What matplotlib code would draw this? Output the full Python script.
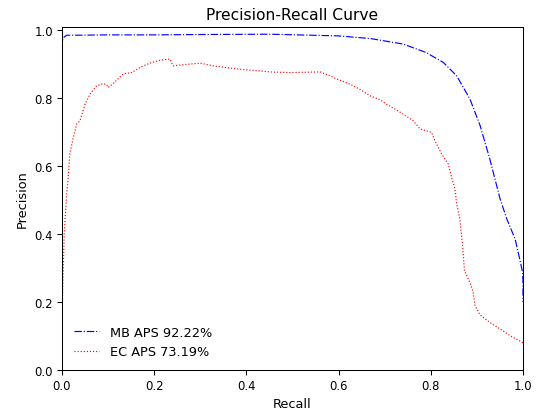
import matplotlib
matplotlib.use('Agg')
import matplotlib.pyplot as plt

# MB 曲线 (recall, precision)
mb_recall = [0, 0, 0.002, 0.005, 0.01, 0.03, 0.1, 0.2, 0.3, 0.45, 0.6, 0.67, 0.74,
             0.79, 0.827, 0.856, 0.885, 0.907, 0.928, 0.95, 0.965, 0.983, 0.993,
             0.999, 1.0, 1.0]
mb_precision = [0.0, 0.96, 0.975, 0.98, 0.985, 0.985, 0.986, 0.986, 0.987, 0.988,
                0.983, 0.975, 0.959, 0.934, 0.905, 0.866, 0.797, 0.719, 0.621, 0.505,
                0.444, 0.385, 0.326, 0.288, 0.26, 0.2]

# EC 曲线 (recall, precision)
ec_recall = [0, 0.0007, 0.003, 0.005, 0.010, 0.0137, 0.0174, 0.0246, 0.032, 0.039,
             0.050, 0.061, 0.075, 0.090, 0.097, 0.100, 0.111, 0.133, 0.151, 0.173,
             0.195, 0.216, 0.234, 0.241, 0.263, 0.299, 0.328, 0.372, 0.401, 0.430,
             0.451, 0.495, 0.560, 0.581, 0.596, 0.625, 0.646, 0.668, 0.690, 0.704,
             0.722, 0.740, 0.762, 0.777, 0.802, 0.809, 0.824, 0.838, 0.845, 0.852,
             0.856, 0.863, 0.869, 0.873, 0.885, 0.892, 0.896, 0.907, 0.928, 0.950,
             0.972, 1.0]
ec_precision = [0.0, 0.189, 0.307, 0.405, 0.513, 0.571, 0.640, 0.684, 0.724, 0.733,
                0.782, 0.812, 0.836, 0.843, 0.839, 0.831, 0.843, 0.871, 0.875, 0.893,
                0.905, 0.912, 0.915, 0.895, 0.898, 0.903, 0.895, 0.887, 0.883, 0.880,
                0.877, 0.875, 0.877, 0.866, 0.856, 0.841, 0.826, 0.807, 0.795, 0.782,
                0.768, 0.753, 0.733, 0.709, 0.699, 0.674, 0.635, 0.606, 0.567, 0.535,
                0.49, 0.444, 0.366, 0.292, 0.258, 0.228, 0.189, 0.162, 0.140, 0.121,
                0.101, 0.08]

mb_label = 'MB APS 92.22%'
ec_label = 'EC APS 73.19%'

dpi = 93
fig = plt.figure(figsize=(538 / dpi, 410 / dpi), dpi=dpi)
ax = fig.add_axes([0.1152, 0.0951, 0.9721 - 0.1152, 0.9324 - 0.0951])
ax.plot(mb_recall, mb_precision, 'b-.', lw=0.9, label=mb_label)
ax.plot(ec_recall, ec_precision, 'r:', lw=0.9, label=ec_label)
ax.set_xlim(0.0, 1.0)
ax.set_ylim(0.0, 1.01)
ax.set_xticks([0.0, 0.2, 0.4, 0.6, 0.8, 1.0])
ax.set_yticks([0.0, 0.2, 0.4, 0.6, 0.8, 1.0])
ax.tick_params(labelsize=9)
ax.set_xlabel('Recall', fontsize=10)
ax.set_ylabel('Precision', fontsize=10)
ax.set_title('Precision-Recall Curve', fontsize=12)
ax.legend(loc='lower left', frameon=False, fontsize=10)
fig.savefig('out.png', dpi=dpi)
